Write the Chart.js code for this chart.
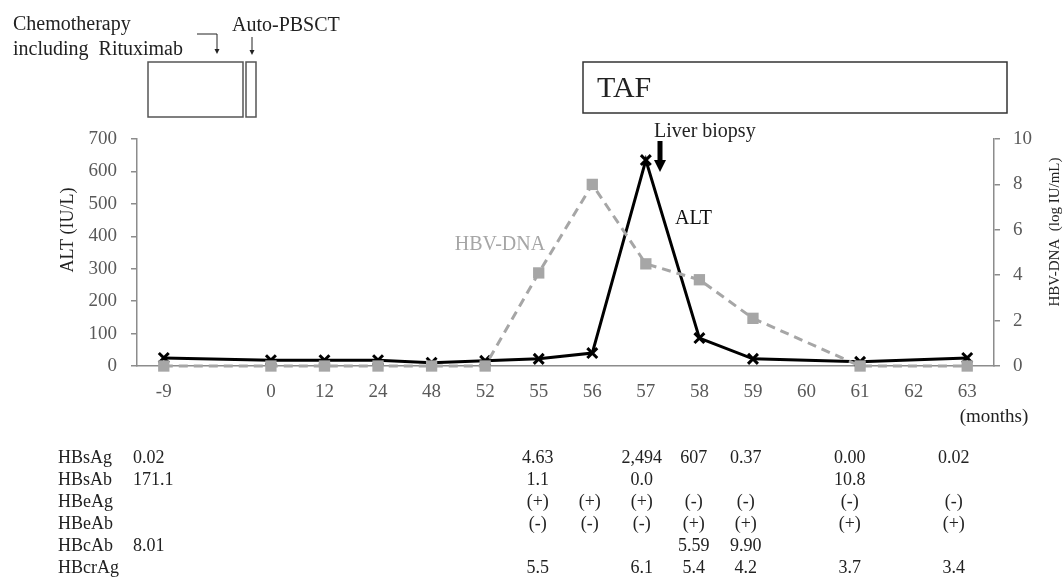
<!DOCTYPE html>
<html>
<head>
<meta charset="utf-8">
<script src="https://cdn.jsdelivr.net/npm/chart.js@4.4.1/dist/chart.umd.min.js"></script>
<style>
  html, body { margin: 0; padding: 0; background: #fff; }
  #chart-wrap { width: 1064px; height: 577px; }
</style>
</head>
<body>
<div id="chart-wrap">
  <canvas id="hbvChart" width="1064" height="577"></canvas>
</div>
<script>
// months from start; the blank slot is the visual gap between -9 and 0
const months = ['-9', '', '0', '12', '24', '48', '52', '55', '56', '57', '58', '59', '60', '61', '62', '63'];
const altValues = [25, null, 18, 18, 18, 10, 16, 22, 40, 635, 86, 22, null, 13, null, 25];
const hbvDnaValues = [0, null, 0, 0, 0, 0, 0, 4.1, 8.0, 4.5, 3.8, 2.1, null, 0, null, 0];
const altTicks = [0, 100, 200, 300, 400, 500, 600, 700];
const dnaTicks = [0, 2, 4, 6, 8, 10];

// markers table under the chart, one entry per month slot
const tableRows = ['HBsAg', 'HBsAb', 'HBeAg', 'HBeAb', 'HBcAb', 'HBcrAg'];
const hbsAg  = ['0.02', '', '', '', '', '', '', '4.63', '', '2,494', '607', '0.37', '', '0.00', '', '0.02'];
const hbsAb  = ['171.1', '', '', '', '', '', '', '1.1', '', '0.0', '', '', '', '10.8', '', ''];
const hbeAg  = ['', '', '', '', '', '', '', '(+)', '(+)', '(+)', '(-)', '(-)', '', '(-)', '', '(-)'];
const hbeAb  = ['', '', '', '', '', '', '', '(-)', '(-)', '(-)', '(+)', '(+)', '', '(+)', '', '(+)'];
const hbcAb  = ['8.01', '', '', '', '', '', '', '', '', '', '5.59', '9.90', '', '', '', ''];
const hbcrAg = ['', '', '', '', '', '', '', '5.5', '', '6.1', '5.4', '4.2', '', '3.7', '', '3.4'];
const tableValues = [hbsAg, hbsAb, hbeAg, hbeAb, hbcAb, hbcrAg];

const SERIF = '"Liberation Serif", "Times New Roman", serif';

function arrowDown(ctx, x, y1, y2, head) {
  ctx.beginPath();
  ctx.moveTo(x, y1);
  ctx.lineTo(x, y2 - head);
  ctx.stroke();
  ctx.beginPath();
  ctx.moveTo(x - head / 2, y2 - head);
  ctx.lineTo(x + head / 2, y2 - head);
  ctx.lineTo(x, y2);
  ctx.closePath();
  ctx.fill();
}

const extrasPlugin = {
  id: 'extras',
  afterDraw(chart) {
    const ctx = chart.ctx;
    const x = chart.scales.x;
    ctx.save();

    // axis titles (both read bottom to top)
    ctx.fillStyle = '#222';
    ctx.textAlign = 'center';
    ctx.textBaseline = 'middle';
    ctx.save();
    ctx.translate(68, 230);
    ctx.rotate(-Math.PI / 2);
    ctx.font = '18px ' + SERIF;
    ctx.fillText('ALT (IU/L)', 0, 0);
    ctx.restore();
    ctx.save();
    ctx.translate(1055, 232);
    ctx.rotate(-Math.PI / 2);
    ctx.font = '15px ' + SERIF;
    ctx.fillText('HBV-DNA  (log IU/mL)', 0, 0);
    ctx.restore();

    ctx.font = '19px ' + SERIF;
    ctx.fillText('(months)', 994, 417);

    // treatment boxes
    ctx.strokeStyle = '#555';
    ctx.lineWidth = 1.5;
    ctx.strokeRect(148, 62, 95, 55);
    ctx.strokeRect(246, 62, 10, 55);
    ctx.strokeStyle = '#333';
    ctx.strokeRect(583, 62, 424, 51);

    ctx.textAlign = 'left';
    ctx.font = '20px ' + SERIF;
    ctx.fillText('Chemotherapy', 13, 25);
    ctx.fillText('including  Rituximab', 13, 50);
    ctx.fillText('Auto-PBSCT', 232, 26);
    ctx.font = '30px ' + SERIF;
    ctx.fillText('TAF', 597, 89);

    // small arrows
    ctx.strokeStyle = '#222';
    ctx.fillStyle = '#222';
    ctx.lineWidth = 1;
    ctx.beginPath();
    ctx.moveTo(197, 34);
    ctx.lineTo(217, 34);
    ctx.stroke();
    arrowDown(ctx, 217, 34, 54, 5);
    arrowDown(ctx, 252, 37, 55, 5);

    // liver biopsy
    ctx.font = '20px ' + SERIF;
    ctx.fillText('Liver biopsy', 654, 132);
    ctx.fillStyle = '#000';
    ctx.fillRect(657.5, 141, 5, 20);
    ctx.beginPath();
    ctx.moveTo(654, 160);
    ctx.lineTo(666, 160);
    ctx.lineTo(660, 172);
    ctx.closePath();
    ctx.fill();

    // series labels
    ctx.fillStyle = '#111';
    ctx.fillText('ALT', 675, 219);
    ctx.fillStyle = '#a6a6a6';
    ctx.textAlign = 'center';
    ctx.fillText('HBV-DNA', 500, 245);

    // table
    ctx.font = '18px ' + SERIF;
    ctx.fillStyle = '#222';
    const col0 = x.getPixelForValue(7) - 1;
    tableRows.forEach((name, r) => {
      const y = 458 + r * 22;
      ctx.textAlign = 'left';
      ctx.fillText(name, 58, y);
      tableValues[r].forEach((v, i) => {
        if (!v) return;
        if (i === 0) {
          ctx.textAlign = 'left';
          ctx.fillText(v, 133, y);
        } else {
          ctx.textAlign = 'center';
          ctx.fillText(v, col0 + 52 * (i - 7), y);
        }
      });
    });

    ctx.restore();
  }
};

const config = {
  type: 'line',
  data: {
    labels: months,
    datasets: [
      {
        label: 'HBV-DNA',
        data: hbvDnaValues,
        yAxisID: 'y1',
        borderColor: '#a6a6a6',
        backgroundColor: '#a6a6a6',
        borderWidth: 3,
        borderDash: [9, 6],
        pointStyle: 'rect',
        pointRadius: 8,
        pointBorderWidth: 0,
        spanGaps: true,
        clip: false,
        order: 0,
      },
      {
        label: 'ALT',
        data: altValues,
        yAxisID: 'y',
        borderColor: '#000',
        backgroundColor: '#000',
        borderWidth: 3,
        pointStyle: 'crossRot',
        pointRadius: 7,
        pointBorderWidth: 3,
        spanGaps: true,
        clip: false,
        order: 1,
      },
    ],
  },
  options: {
    responsive: false,
    animation: false,
    layout: { padding: { left: 0, right: 0, top: 139, bottom: 0 } },
    plugins: {
      legend: { display: false },
      tooltip: { enabled: false },
    },
    scales: {
      x: {
        offset: true,
        grid: { display: false, drawTicks: false },
        border: { color: '#8c8c8c', width: 1.5 },
        ticks: {
          color: '#595959',
          font: { family: SERIF, size: 19 },
          padding: 15,
          maxRotation: 0,
          autoSkip: false,
        },
        afterFit(scale) { scale.height = 211; },
      },
      y: {
        position: 'left',
        min: 0,
        max: 700,
        afterBuildTicks(scale) { scale.ticks = altTicks.map(v => ({ value: v })); },
        grid: { drawOnChartArea: false, tickLength: 6, color: '#8c8c8c', lineWidth: 1.5 },
        border: { color: '#8c8c8c', width: 1.5 },
        ticks: {
          color: '#595959',
          font: { family: SERIF, size: 19 },
          padding: 14,
        },
        afterFit(scale) { scale.width = 137; },
      },
      y1: {
        position: 'right',
        min: 0,
        max: 10,
        afterBuildTicks(scale) { scale.ticks = dnaTicks.map(v => ({ value: v })); },
        grid: { drawOnChartArea: false, tickLength: 6, color: '#8c8c8c', lineWidth: 1.5 },
        border: { color: '#8c8c8c', width: 1.5 },
        ticks: {
          color: '#595959',
          font: { family: SERIF, size: 19 },
          padding: 13,
        },
        afterFit(scale) { scale.width = 70; },
      },
    },
  },
  plugins: [extrasPlugin],
};

new Chart(document.getElementById('hbvChart').getContext('2d'), config);
</script>
</body>
</html>
